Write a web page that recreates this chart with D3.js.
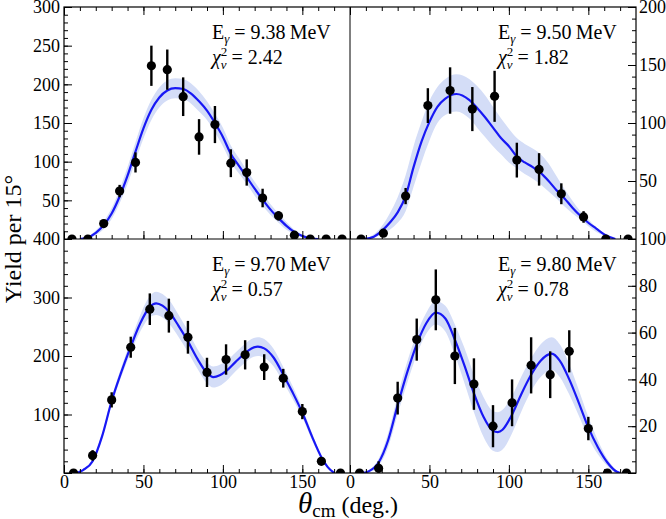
<!DOCTYPE html>
<html>
<head>
<meta charset="utf-8">
<script src="https://cdn.jsdelivr.net/npm/d3@7"></script>
<style>
body { margin: 0; background: #fff; }
text { font-family: "Liberation Serif", "Times New Roman", serif; fill: #000; }
.axis line { stroke: #000; stroke-width: 1; }
</style>
</head>
<body>
<svg id="chart" width="666" height="519"></svg>
<script>
// Measured angular yields, four beam energies

// 9.38 MeV
var angA = [5,15,25,35,45,55,65,75,85,95,105,115,125,135,145,155,165,175],
  yieldA = [0,0,20,62,99,224,219,184,132,148,98,86,53,30,5,0,0,0],
  errA = [0,0,5,8,13,26,26,25,23,24,18,17,12,6,3,0,0,0];
var fitAngA = [10,15,20,25,30,35,40,45,50,55,60,65,70,75,80,85,90,95,100,105,110,115,120,125,130,135,140,145,150,155,160],
  fitA = [0,2,8,18,33,55,82,113,143,167,183,192,195,194,188,178,166,150,132,110,95,80,65,51,38,27,17,9,4,1,0],
  bandA = [0,1,3,5,7,9,11,12,13,13,13,13,13,13,13,13,12,12,12,11,10,9,9,8,7,6,5,3,2,1,0];

// 9.50 MeV
var angB = [7,21,35,49,63,77,91,105,119,133,147,161,175],
  yieldB = [0,5,37,115,128,112,123,68,60,39,19,0,0],
  errB = [0,3,7,15,20,19,22,15,14,9,5,0,0];
var fitAngB = [9,15,20,25,30,35,40,45,50,55,60,67,75,80,85,90,95,100,105,110,115,120,125,130,135,140,145,150,155,160,167],
  fitB = [0,2,7,14,23,37,62,84,101,114,121,125,120,113,105,96,87,80,71,66,62,57,50,42,35,27,20,14,9,4,0],
  fitHiB = [0,4,11,22,36,55,80,101,119,131,138,142,138,132,124,114,104,95,87,82,78,73,65,54,43,33,24,17,10,5,0],
  fitLoB = [0,1,4,8,14,24,45,66,85,100,107,110,104,96,88,80,73,66,61,56,52,47,41,35,28,22,17,11,6,3,0];

// 9.70 MeV
var angC = [6,18,30,42,54,66,78,90,102,114,126,138,150,162,174],
  yieldC = [0,30,125,215,280,269,232,172,194,202,181,162,105,20,0],
  errC = [0,9,13,18,27,29,28,25,26,25,22,16,13,4,0];
var fitAngC = [8,12,18,24,30,36,42,48,54,58,62,66,72,78,84,90,94,98,102,108,114,118,122,126,132,138,144,150,156,162,166,170],
  fitC = [0,5,20,63,123,172,216,256,284,290,286,276,252,225,195,171,164,167,174,190,205,213,216,213,197,168,137,103,63,27,10,0],
  bandC = [0,1,3,5,6,8,10,14,18,20,20,20,19,18,17,18,18,18,17,16,16,16,16,16,15,13,11,8,6,3,1,0];

// 9.80 MeV
var angD = [6,18,30,42,54,66,78,90,102,114,126,138,150,162,174],
  yieldD = [0,2,32,57,74,50,38,20,30,46,42,52,19,0,0],
  errD = [0,3,7,9,13,12,11,9,10,12,10,9,5,0,0];
var fitAngD = [8,12,18,24,30,36,42,48,54,60,66,72,78,84,90,93,96,102,108,114,120,127,132,138,144,150,156,162,168,170],
  fitD = [0,0.8,4.5,14,29,43,55,64,68.5,66,57,46,34,24,18,17.5,18.5,25,34,42,48,51,48,40,30,19.5,11,4.5,0.5,0],
  bandD = [0,0.5,1.5,3,4,4.5,4.5,4.5,5,5.5,6.5,7.5,8,8.5,8.5,8.5,8.5,8,7.5,7,7,7,7,6.5,5.5,4.5,3,1.5,0.5,0];

// Tick labels
var xTickLabels = [0,50,100,150],
  yLabelsA = [50,100,150,200,250,300],
  yLabelsB = [50,100,150,200],
  yLabelsC = [100,200,300,400],
  yLabelsD = [20,40,60,80,100];

var energies = ["9.38","9.50","9.70","9.80"],
  chiSq = ["2.42","1.82","0.57","0.78"];

// Frame placement
var frLeft = 64, frMid = 350, frRight = 636,
  frTop = 7, frHMid = 239, frBottom = 473;
var serif = "'Liberation Serif', 'Times New Roman', serif";

var svg = d3.select("#chart");

var panels = [
  {id:"A", col:0, row:0, yMax:300, major:50, minor:10, labels:yLabelsA,
    ang:angA, val:yieldA, err:errA, fitAng:fitAngA, fit:fitA,
    hi:fitA.map(function(v, i) { return v + bandA[i]; }), lo:fitA.map(function(v, i) { return v - bandA[i]; })},
  {id:"B", col:1, row:0, yMax:200, major:50, minor:10, labels:yLabelsB,
    ang:angB, val:yieldB, err:errB, fitAng:fitAngB, fit:fitB, hi:fitHiB, lo:fitLoB},
  {id:"C", col:0, row:1, yMax:400, major:100, minor:20, labels:yLabelsC,
    ang:angC, val:yieldC, err:errC, fitAng:fitAngC, fit:fitC,
    hi:fitC.map(function(v, i) { return v + bandC[i]; }), lo:fitC.map(function(v, i) { return v - bandC[i]; })},
  {id:"D", col:1, row:1, yMax:100, major:20, minor:5, labels:yLabelsD,
    ang:angD, val:yieldD, err:errD, fitAng:fitAngD, fit:fitD,
    hi:fitD.map(function(v, i) { return v + bandD[i]; }), lo:fitD.map(function(v, i) { return v - bandD[i]; })}
];

var defs = svg.append("defs");

panels.forEach(function(p, k) {
  var x0 = p.col == 0 ? frLeft : frMid,
    x1 = p.col == 0 ? frMid : frRight,
    y0 = p.row == 0 ? frTop : frHMid,
    y1 = p.row == 0 ? frHMid : frBottom;

  var x = d3.scaleLinear().domain([0, 180]).range([x0, x1]);
  var y = d3.scaleLinear().domain([0, p.yMax]).range([y1, y0]);

  defs.append("clipPath").attr("id", "clip" + p.id)
    .append("rect")
    .attr("x", x0).attr("y", y0)
    .attr("width", x1 - x0).attr("height", y1 - y0);

  var g = svg.append("g").attr("clip-path", "url(#clip" + p.id + ")");

  // uncertainty band
  var band = p.fitAng.map(function(a, i) { return {a: a, lo: p.lo[i], hi: p.hi[i]}; });
  g.append("path")
    .datum(band)
    .attr("fill", "#d4ddf7")
    .attr("d", d3.area()
      .curve(d3.curveMonotoneX)
      .x(function(d) { return x(d.a); })
      .y0(function(d) { return y(d.lo); })
      .y1(function(d) { return y(d.hi); }));

  // fit curve
  var fitPts = p.fitAng.map(function(a, i) { return {a: a, v: p.fit[i]}; });
  g.append("path")
    .datum(fitPts)
    .attr("fill", "none")
    .attr("stroke", "#1818f5")
    .attr("stroke-width", 2.2)
    .attr("d", d3.line()
      .curve(d3.curveMonotoneX)
      .x(function(d) { return x(d.a); })
      .y(function(d) { return y(d.v); }));

  // data with error bars
  var pts = p.ang.map(function(a, i) { return {a: a, v: p.val[i], e: p.err[i]}; });
  g.selectAll(".err")
    .data(pts.filter(function(d) { return d.e > 0; }))
    .enter().append("line")
    .attr("x1", function(d) { return x(d.a); })
    .attr("x2", function(d) { return x(d.a); })
    .attr("y1", function(d) { return y(d.v - d.e); })
    .attr("y2", function(d) { return y(d.v + d.e); })
    .attr("stroke", "#000")
    .attr("stroke-width", 2.4);
  g.selectAll(".pt")
    .data(pts)
    .enter().append("circle")
    .attr("cx", function(d) { return x(d.a); })
    .attr("cy", function(d) { return y(d.v); })
    .attr("r", 4.6)
    .attr("fill", "#000");

  // x ticks, bottom edge of each panel
  var xb = svg.append("g").attr("class", "axis").attr("transform", "translate(0," + y1 + ")");
  xb.append("g").call(d3.axisBottom(x).tickValues(d3.range(0, 180, 10)).tickSize(-4).tickFormat(""));
  var xMaj = xb.append("g").call(d3.axisBottom(x).tickValues(xTickLabels).tickSize(-8).tickPadding(2)
    .tickFormat(p.row == 1 ? d3.format("d") : function() { return ""; }));
  xMaj.selectAll("text").style("font-size", "18px").style("font-family", serif);
  xb.selectAll(".domain").remove();

  if (p.row == 0) {
    var xt = svg.append("g").attr("class", "axis").attr("transform", "translate(0," + y0 + ")");
    xt.append("g").call(d3.axisTop(x).tickValues(d3.range(0, 180, 10)).tickSize(-4).tickFormat(""));
    xt.append("g").call(d3.axisTop(x).tickValues(xTickLabels).tickSize(-8).tickFormat(""));
    xt.selectAll(".domain").remove();
  }

  // y ticks on the outer side
  var yAxisMinor = p.col == 0 ? d3.axisLeft(y) : d3.axisRight(y),
    yAxisMajor = p.col == 0 ? d3.axisLeft(y) : d3.axisRight(y);
  var ya = svg.append("g").attr("class", "axis")
    .attr("transform", "translate(" + (p.col == 0 ? x0 : x1) + ",0)");
  ya.append("g").call(yAxisMinor.tickValues(d3.range(0, p.yMax + 0.1, p.minor)).tickSize(-4).tickFormat(""));
  ya.append("g").call(yAxisMajor.tickValues(d3.range(0, p.yMax + 0.1, p.major)).tickSize(-8).tickFormat(""));
  var yl = ya.append("g").call((p.col == 0 ? d3.axisLeft(y) : d3.axisRight(y))
    .tickValues(p.labels).tickSize(0).tickPadding(p.col == 0 ? 4 : 3).tickFormat(d3.format("d")));
  yl.selectAll("line").remove();
  yl.selectAll("text").style("font-size", "18px").style("font-family", serif);
  ya.selectAll(".domain").remove();

  // energy and chi-square annotation
  var tx = x0 + 148, ty = y0 + 32;
  var t1 = svg.append("text").attr("x", tx).attr("y", ty).style("font-size", "20px");
  t1.append("tspan").text("E");
  t1.append("tspan").style("font-size", "13px").style("font-style", "italic").attr("dy", 4).text("γ");
  t1.append("tspan").attr("dy", -4).text(" = " + energies[k] + "\u2009MeV");

  var t2 = svg.append("text").attr("x", tx).attr("y", ty + 25).style("font-size", "20px");
  t2.append("tspan").style("font-style", "italic").text("χ");
  t2.append("tspan").style("font-size", "13px").attr("dy", -8).text("2");
  t2.append("tspan").style("font-size", "13px").style("font-style", "italic").attr("dx", -6.5).attr("dy", 13).text("ν");
  t2.append("tspan").attr("dy", -5).text(" = " + chiSq[k]);
});

// frame and dividers
svg.append("rect")
  .attr("x", frLeft).attr("y", frTop)
  .attr("width", frRight - frLeft).attr("height", frBottom - frTop)
  .attr("fill", "none").attr("stroke", "#000").attr("stroke-width", 1.2);
svg.append("line").attr("x1", frMid).attr("x2", frMid).attr("y1", frTop).attr("y2", frBottom)
  .attr("stroke", "#000").attr("stroke-width", 1);
svg.append("line").attr("x1", frLeft).attr("x2", frRight).attr("y1", frHMid).attr("y2", frHMid)
  .attr("stroke", "#000").attr("stroke-width", 1.2);

// axis titles
svg.append("text")
  .attr("transform", "translate(21," + frHMid + ")rotate(-90)")
  .attr("text-anchor", "middle")
  .style("font-size", "24px")
  .text("Yield per 15°");

var xTitle = svg.append("text").attr("x", 298).attr("y", 513);
xTitle.append("tspan").style("font-style", "italic").style("font-size", "29px").text("θ");
xTitle.append("tspan").style("font-size", "19px").attr("dy", 4).text("cm");
xTitle.append("tspan").style("font-size", "24px").attr("dy", -4).text(" (deg.)");
</script>
</body>
</html>
